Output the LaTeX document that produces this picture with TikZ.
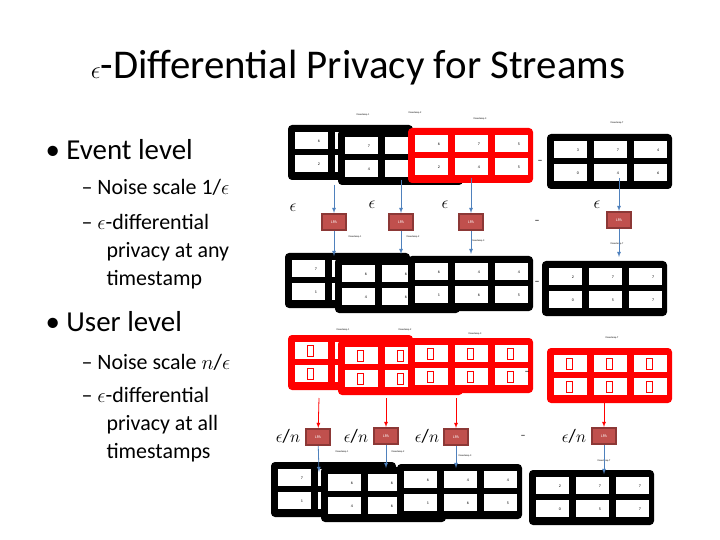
\documentclass[tikz,border=0pt]{standalone}
\usepackage{fontspec}
\setmainfont{Carlito}
\usetikzlibrary{positioning,arrows,calc}
\definecolor{lpared}{HTML}{C0504D}
\definecolor{lpaedge}{HTML}{8C3836}
\definecolor{arrblue}{HTML}{4F81BD}
\definecolor{tblred}{HTML}{FF0000}
\tikzset{
  lpa/.style={draw=lpaedge,line width=2bp,fill=lpared,minimum width=24bp,minimum height=16bp,inner sep=0pt,font=\fontsize{4}{4}\selectfont\color{white}},
  flow/.style={-latex,thick,color=arrblue},
  rflow/.style={-latex,thick,color=tblred},
  tsl/.style={font=\fontsize{2.5}{3}\selectfont},
  dig/.style={font=\fontsize{4}{4}\selectfont,inner sep=0pt},
  big/.style={font=\fontsize{29}{32}\selectfont,anchor=west},
  sub/.style={font=\fontsize{22}{28}\selectfont,anchor=west,align=left},
  eps/.style={font=\fontsize{19}{19}\selectfont},
}
\newcommand{\ep}{$\epsilon$}
% table: x, y, colour, six digits
\newcommand{\strtable}[9]{%
  \fill[#3,rounded corners=4bp] (#1,#2) rectangle ++(125,55);
  \foreach \cx/\cy/\d in {7/7/#4,47/7/#5,87/7/#6,7/30/#7,47/30/#8,87/30/#9}{
    \fill[white] ($(#1,#2)+(\cx,\cy)$) rectangle ++(33,17);
    \node[dig] at ($(#1,#2)+(\cx+24,\cy+9)$) {\d};
  }}
\newcommand{\glyphs}[2]{%
  \foreach \cx/\cy in {7/7,47/7,87/7,7/30,47/30,87/30}
    \draw[tblred,line width=0.6bp] ($(#1,#2)+(\cx+12,\cy+3)$) rectangle ++(6,11);}
\begin{document}
\begin{tikzpicture}[x=1bp,y=-1bp]
  \useasboundingbox[fill=white] (0,0) rectangle (720,540);

  \node (title) at (358,68) {\fontsize{41}{46}\selectfont \ep-Differential Privacy for Streams};

  % bullets
  \node[big] (ev) at (42,150) {\textbullet\ Event level};
  \node[sub] (ev1) at (78,187) {-- Noise scale 1/\ep};
  \node[sub] (ev2) at (78,252) {-- \ep-differential\\\hspace*{25bp}privacy at any\\\hspace*{25bp}timestamp};
  \node[big] (us) at (42,322) {\textbullet\ User level};
  \node[sub] (us1) at (78,362) {-- Noise scale $n$/\ep};
  \node[sub] (us2) at (78,425) {-- \ep-differential\\\hspace*{25bp}privacy at all\\\hspace*{25bp}timestamps};

  % event level, input streams
  \strtable{288}{125}{black}{6}{7}{5}{2}{4}{5}
  \strtable{338}{130}{black}{7}{5}{6}{4}{5}{2}
  \strtable{408}{128}{tblred}{6}{7}{5}{2}{4}{5}
  \strtable{547}{134}{black}{3}{7}{4}{0}{4}{6}
  \foreach \x/\y/\t in {363/115/1,415/113/2,480/119/3,617/123/T}
    \node[tsl] at (\x,\y) {timestamp \t};

  \node[eps] (e1) at (293,208) {\ep};
  \node[eps] (e2) at (372,205) {\ep};
  \node[eps] (e3) at (445,205) {\ep};
  \node[eps] (e4) at (597,205) {\ep};
  \node[lpa] (lpa1) at (334,222) {LPA};
  \node[lpa] (lpa2) at (401,222) {LPA};
  \node[lpa] (lpa3) at (471,222) {LPA};
  \node[lpa] (lpa4) at (619,220) {LPA};

  % event level, outputs
  \strtable{285}{253}{black}{7}{6}{6}{1}{4}{6}
  \strtable{335}{258}{black}{6}{6}{4}{4}{6}{1}
  \strtable{408}{256}{black}{6}{4}{4}{1}{6}{5}
  \strtable{542}{261}{black}{2}{7}{7}{0}{5}{7}
  \foreach \x/\y/\t in {355/237/1,413/237/2,478/241/3,617/244/T}
    \node[tsl] at (\x,\y) {timestamp \t};

  \coordinate (s1) at (334,185); \coordinate (t1) at (334,256);
  \coordinate (s2) at (401,180); \coordinate (t2) at (401,254);
  \coordinate (s3) at (471,178); \coordinate (t3) at (471,254);
  \coordinate (s4) at (619,178); \coordinate (t4) at (619,257);
  \foreach \i in {1,...,4}{
    \draw[flow] (s\i) -- (lpa\i);
    \draw[flow] (lpa\i) -- (t\i);
  }
  \node (d1) at (540,162) {--};
  \node (d2) at (537,222) {--};
  \node (d3) at (537,283) {--};

  % user level, input streams
  \strtable{288}{335}{tblred}{}{}{}{}{}{}
  \glyphs{288}{335}
  \strtable{338}{340}{tblred}{}{}{}{}{}{}
  \glyphs{338}{340}
  \strtable{408}{338}{tblred}{}{}{}{}{}{}
  \glyphs{408}{338}
  \strtable{547}{348}{tblred}{}{}{}{}{}{}
  \glyphs{547}{348}
  \foreach \x/\y/\t in {343/330/1,405/330/2,475/334/3,612/338/T}
    \node[tsl] at (\x,\y) {timestamp \t};

  \node[eps] (n1) at (288,436) {\ep/$n$};
  \node[eps] (n2) at (356,436) {\ep/$n$};
  \node[eps] (n3) at (427,436) {\ep/$n$};
  \node[eps] (n4) at (574,436) {\ep/$n$};
  \node[lpa] (ulpa1) at (318,437) {LPA};
  \node[lpa] (ulpa2) at (386,436) {LPA};
  \node[lpa] (ulpa3) at (456,437) {LPA};
  \node[lpa] (ulpa4) at (604,436) {LPA};

  % user level, outputs
  \strtable{271}{462}{black}{7}{6}{6}{1}{4}{6}
  \strtable{321}{467}{black}{6}{6}{4}{4}{6}{1}
  \strtable{397}{464}{black}{6}{4}{4}{1}{6}{5}
  \strtable{529}{470}{black}{2}{7}{7}{0}{5}{7}
  \foreach \x/\y/\t in {342/452/1,398/452/2,465/456/3,604/461/T}
    \node[tsl] at (\x,\y) {timestamp \t};

  \coordinate (us1) at (319,398); \coordinate (ut1) at (319,472);
  \coordinate (us2) at (386,398); \coordinate (ut2) at (386,468);
  \coordinate (us3) at (456,398); \coordinate (ut3) at (456,468);
  \coordinate (us4) at (604,400); \coordinate (ut4) at (604,474);
  \foreach \i in {1,...,4}{
    \draw[rflow] (us\i) -- (ulpa\i);
    \draw[flow] (ulpa\i) -- (ut\i);
  }
  \node (ud1) at (527,373) {--};
  \node (ud2) at (523,437) {--};
  \node (ud3) at (520,497) {--};
\end{tikzpicture}
\end{document}
